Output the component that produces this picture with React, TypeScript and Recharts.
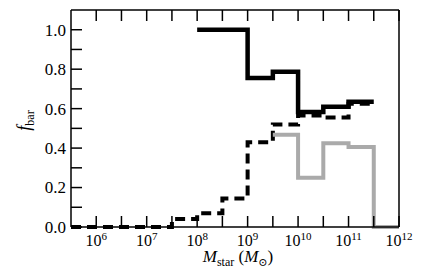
import { LineChart, Line, XAxis, YAxis } from 'recharts';

// bin edges in log10(M_star / M_sun)
const logEdges = [5.5, 6, 6.5, 7, 7.5, 8, 8.5, 9, 9.5, 10, 10.5, 11, 11.5, 12];
// step values per bin (last value repeated at the closing edge)
const fbarDashed = [0, 0, 0, 0, 0.04, 0.07, 0.145, 0.43, 0.52, 0.565, 0.555, 0.625, 0.625, null];
const fbarSolid = [null, null, null, null, null, 1.0, 1.0, 0.755, 0.787, 0.583, 0.61, 0.635, 0.635, null];
const fbarGray = [null, null, null, null, null, null, null, null, 0.467, 0.25, 0.425, 0.405, 0, 0];

const xTickLogs = [6, 6.5, 7, 7.5, 8, 8.5, 9, 9.5, 10, 10.5, 11, 11.5, 12];
const yTicks = [0, 0.1, 0.2, 0.3, 0.4, 0.5, 0.6, 0.7, 0.8, 0.9, 1.0];

const data = logEdges.map((lg, i) => ({
  mass: Math.pow(10, lg),
  dashed: fbarDashed[i],
  solid: fbarSolid[i],
  gray: fbarGray[i],
}));
const xTicks = xTickLogs.map((lg) => Math.pow(10, lg));

const FONT = "'Liberation Serif', 'Times New Roman', Times, 'DejaVu Serif', serif";
const TICK = 11;

function BottomTick(props: any) {
  const { x, y, payload } = props;
  const lg = Math.round(Math.log10(payload.value) * 2) / 2;
  const labeled = Number.isInteger(lg);
  return (
    <g>
      <line x1={x} x2={x} y1={y} y2={y - TICK} stroke="#000" strokeWidth={1.5} />
      {labeled && (
        <text x={x} y={y + 19} textAnchor="middle" style={{ fontFamily: FONT }} fontSize={16} fill="#000">
          10
          <tspan dy={-6} fontSize={11}>
            {lg}
          </tspan>
        </text>
      )}
    </g>
  );
}

function TopTick(props: any) {
  const { x, y } = props;
  return <line x1={x} x2={x} y1={y} y2={y + TICK} stroke="#000" strokeWidth={1.5} />;
}

function LeftTick(props: any) {
  const { x, y, payload } = props;
  const v = payload.value as number;
  const labeled = Math.round(v * 10) % 2 === 0;
  return (
    <g>
      <line x1={x} x2={x + TICK} y1={y} y2={y} stroke="#000" strokeWidth={1.5} />
      {labeled && (
        <text x={x - 5} y={y} dy="0.35em" textAnchor="end" style={{ fontFamily: FONT }} fontSize={17} fill="#000">
          {v.toFixed(1)}
        </text>
      )}
    </g>
  );
}

function RightTick(props: any) {
  const { x, y } = props;
  return <line x1={x} x2={x - TICK} y1={y} y2={y} stroke="#000" strokeWidth={1.5} />;
}

function XLabel(props: any) {
  const vb = props.viewBox;
  const cx = vb.x + vb.width / 2 + 3;
  return (
    <text x={cx} y={vb.y + 35} textAnchor="middle" style={{ fontFamily: FONT }} fontSize={17} fill="#000">
      <tspan fontStyle="italic">M</tspan>
      <tspan dy={4} fontSize={12}>star</tspan>
      <tspan dy={-4}> (</tspan>
      <tspan fontStyle="italic">M</tspan>
      <tspan dy={4} fontSize={11}>⊙</tspan>
      <tspan dy={-4}>)</tspan>
    </text>
  );
}

function YLabel(props: any) {
  const vb = props.viewBox;
  const cx = 30;
  const cy = vb.y + vb.height / 2 + 2;
  return (
    <text
      x={cx}
      y={cy}
      textAnchor="middle"
      style={{ fontFamily: FONT }}
      fontSize={18}
      fill="#000"
      transform={`rotate(-90, ${cx}, ${cy})`}
    >
      <tspan fontStyle="italic">f</tspan>
      <tspan dy={4} fontSize={12}>bar</tspan>
    </text>
  );
}

const axisLine = { stroke: '#000', strokeWidth: 1.5 };

export default function App() {
  return (
    <div style={{ position: 'absolute', left: 0, top: 0 }}>
      <LineChart width={436} height={273} data={data} margin={{ top: 0, right: 0, left: 0, bottom: 0 }}>
        <XAxis
          dataKey="mass"
          type="number"
          scale="log"
          domain={[Math.pow(10, 5.5), 1e12]}
          ticks={xTicks}
          height={46}
          tickSize={0}
          tickMargin={0}
          tickLine={false}
          axisLine={axisLine}
          tick={<BottomTick />}
          label={{ content: <XLabel /> }}
          interval={0}
        />
        <XAxis
          xAxisId="top"
          orientation="top"
          dataKey="mass"
          type="number"
          scale="log"
          domain={[Math.pow(10, 5.5), 1e12]}
          ticks={xTicks}
          height={10}
          tickSize={0}
          tickMargin={0}
          tickLine={false}
          axisLine={axisLine}
          tick={<TopTick />}
          interval={0}
        />
        <YAxis
          type="number"
          domain={[0, 1.1]}
          ticks={yTicks}
          width={71}
          tickSize={0}
          tickMargin={0}
          tickLine={false}
          axisLine={axisLine}
          tick={<LeftTick />}
          label={{ content: <YLabel /> }}
          interval={0}
        />
        <YAxis
          yAxisId="right"
          orientation="right"
          type="number"
          domain={[0, 1.1]}
          ticks={yTicks}
          width={37}
          tickSize={0}
          tickMargin={0}
          tickLine={false}
          axisLine={axisLine}
          tick={<RightTick />}
          interval={0}
        />
        <Line
          dataKey="dashed"
          type="stepAfter"
          stroke="#000"
          strokeWidth={4}
          strokeDasharray="10 6"
          dot={false}
          activeDot={false}
          isAnimationActive={false}
        />
        <Line
          dataKey="gray"
          type="stepAfter"
          stroke="#aaaaaa"
          strokeWidth={4}
          dot={false}
          activeDot={false}
          isAnimationActive={false}
        />
        <Line
          dataKey="solid"
          type="stepAfter"
          stroke="#000"
          strokeWidth={4.5}
          dot={false}
          activeDot={false}
          isAnimationActive={false}
        />
      </LineChart>
    </div>
  );
}
